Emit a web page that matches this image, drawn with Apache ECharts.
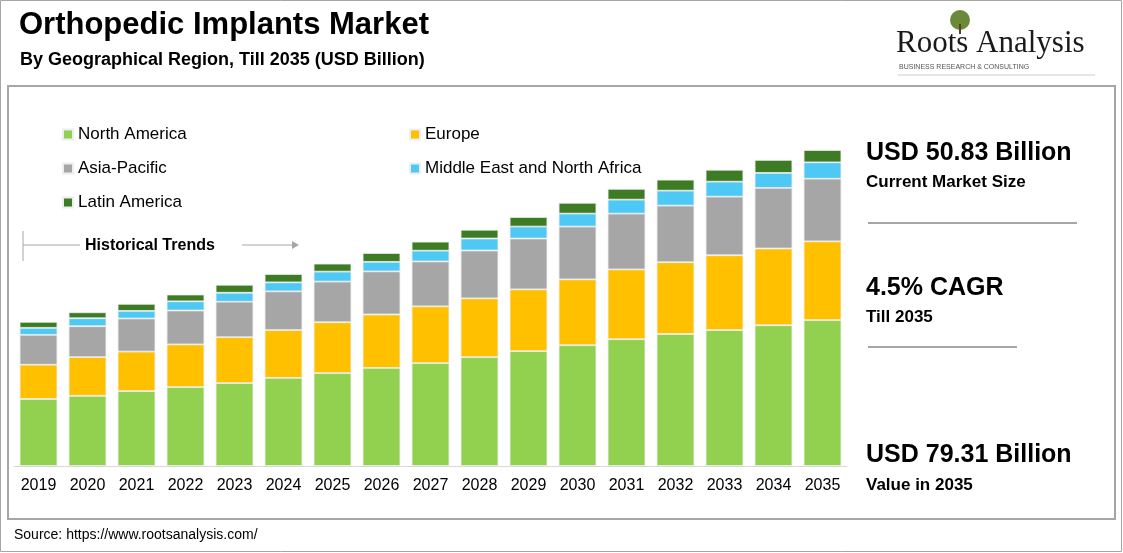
<!DOCTYPE html>
<html><head><meta charset="utf-8">
<script src="https://cdn.jsdelivr.net/npm/echarts@6/dist/echarts.min.js"></script>
<style>html,body{margin:0;padding:0;background:#fff}#c{width:1123px;height:553px}</style>
</head><body><div id="c"></div>
<script>
const years = ['2019','2020','2021','2022','2023','2024','2025','2026','2027','2028','2029','2030','2031','2032','2033','2034','2035'];
const northAmerica = [16.8,17.6,18.8,19.8,20.8,22.1,23.3,24.6,25.8,27.3,28.8,30.3,31.8,33.1,34.1,35.3,36.6];
const europe = [8.6,9.7,9.9,10.7,11.5,12.0,12.75,13.4,14.25,14.75,15.5,16.5,17.5,18.0,18.75,19.25,19.75];
const asiaPacific = [7.5,7.75,8.3,8.5,8.9,9.7,10.2,10.8,11.25,12.0,12.75,13.25,14.0,14.2,14.7,15.2,15.7];
const mena = [1.75,2.0,1.9,2.3,2.25,2.25,2.5,2.4,2.7,3.0,3.0,3.25,3.5,3.75,3.75,3.75,4.1];
const latinAmerica = [1.5,1.5,1.75,1.7,2.0,2.1,2.0,2.2,2.25,2.2,2.4,2.7,2.7,2.75,3.0,3.25,3.1];
const seriesNames = ['North America','Europe','Asia-Pacific','Middle East and North Africa','Latin America'];
const colors = ['#92D050','#FFC000','#A6A6A6','#4EC8F4','#3D7C24'];
const dataSets = [northAmerica, europe, asiaPacific, mena, latinAmerica];

const F = 'Liberation Sans, Arial, sans-serif';
const chart = echarts.init(document.getElementById('c'));
const legendStyle = {icon:'rect', itemWidth:10, itemHeight:10, itemGap:15, orient:'vertical', textStyle:{fontFamily:F,fontSize:17,color:'#000',lineHeight:19}};
chart.setOption({
  animation:false,
  color: colors,
  legend: [
    Object.assign({left:57, top:120, data:['North America','Asia-Pacific','Latin America']}, legendStyle),
    Object.assign({left:404, top:120, data:['Europe','Middle East and North Africa']}, legendStyle)
  ],
  grid:{left:14, right:276, top:147, bottom:87},
  xAxis:{type:'category', data:years, axisTick:{show:false},
    axisLine:{lineStyle:{color:'#D9D9D9'}},
    axisLabel:{fontFamily:F, fontSize:16, color:'#000', margin:12}},
  yAxis:{type:'value', min:0, max:80, show:false, splitLine:{show:false}},
  series: dataSets.map((d,i)=>({name:seriesNames[i], type:'bar', stack:'t', data:d, barCategoryGap:'23%',
    itemStyle:{color:colors[i], borderColor:'#eeeeee', borderWidth:0.8}})),
  graphic:[
    {type:'rect', shape:{x:0.5,y:0.5,width:1121,height:551}, style:{fill:'none',stroke:'#A6A6A6',lineWidth:1}},
    {type:'rect', shape:{x:8,y:86,width:1107,height:433}, style:{fill:'none',stroke:'#A6A6A6',lineWidth:2}},
    {type:'text', left:19, top:10, style:{text:'Orthopedic Implants Market', font:'bold 31px '+F, fill:'#000'}},
    {type:'text', left:20, top:51, style:{text:'By Geographical Region, Till 2035 (USD Billion)', font:'bold 18px '+F, fill:'#000'}},
    {type:'text', left:896, top:28, style:{text:'Roots Analysis', font:'31px Liberation Serif, serif', fill:'#1a1a1a'}},
    {type:'text', left:899, top:64, style:{text:'BUSINESS RESEARCH & CONSULTING', font:'7px '+F, fill:'#555', letterSpacing:2.6}},
    {type:'line', shape:{x1:898,y1:75,x2:1095,y2:75}, style:{stroke:'#999',lineWidth:0.5}},
    {type:'circle', shape:{cx:960,cy:20,r:10}, style:{fill:'#6a8a3a'}},
    {type:'rect', shape:{x:959,y:24,width:2,height:10}, style:{fill:'#5a4020'}},
    {type:'line', shape:{x1:23,y1:231,x2:23,y2:261}, style:{stroke:'#A6A6A6',lineWidth:1}},
    {type:'line', shape:{x1:23,y1:245,x2:80,y2:245}, style:{stroke:'#A6A6A6',lineWidth:1}},
    {type:'text', left:85, top:238, style:{text:'Historical Trends', font:'bold 16px '+F, fill:'#000'}},
    {type:'line', shape:{x1:242,y1:245,x2:296,y2:245}, style:{stroke:'#A6A6A6',lineWidth:1}},
    {type:'polygon', shape:{points:[[292,241],[299,245],[292,249]]}, style:{fill:'#A6A6A6'}},
    {type:'text', left:866, top:141, style:{text:'USD 50.83 Billion', font:'bold 25px '+F, fill:'#000'}},
    {type:'text', left:866, top:174, style:{text:'Current Market Size', font:'bold 17px '+F, fill:'#000'}},
    {type:'line', shape:{x1:868,y1:223,x2:1077,y2:223}, style:{stroke:'#A6A6A6',lineWidth:2}},
    {type:'text', left:866, top:276, style:{text:'4.5% CAGR', font:'bold 25px '+F, fill:'#000'}},
    {type:'text', left:866, top:309, style:{text:'Till 2035', font:'bold 17px '+F, fill:'#000'}},
    {type:'line', shape:{x1:868,y1:347,x2:1017,y2:347}, style:{stroke:'#A6A6A6',lineWidth:2}},
    {type:'text', left:866, top:443, style:{text:'USD 79.31 Billion', font:'bold 25px '+F, fill:'#000'}},
    {type:'text', left:866, top:477, style:{text:'Value in 2035', font:'bold 17px '+F, fill:'#000'}},
    {type:'text', left:14, top:528, style:{text:'Source: https://www.rootsanalysis.com/', font:'14px '+F, fill:'#000'}}
  ]
});
</script></body></html>
